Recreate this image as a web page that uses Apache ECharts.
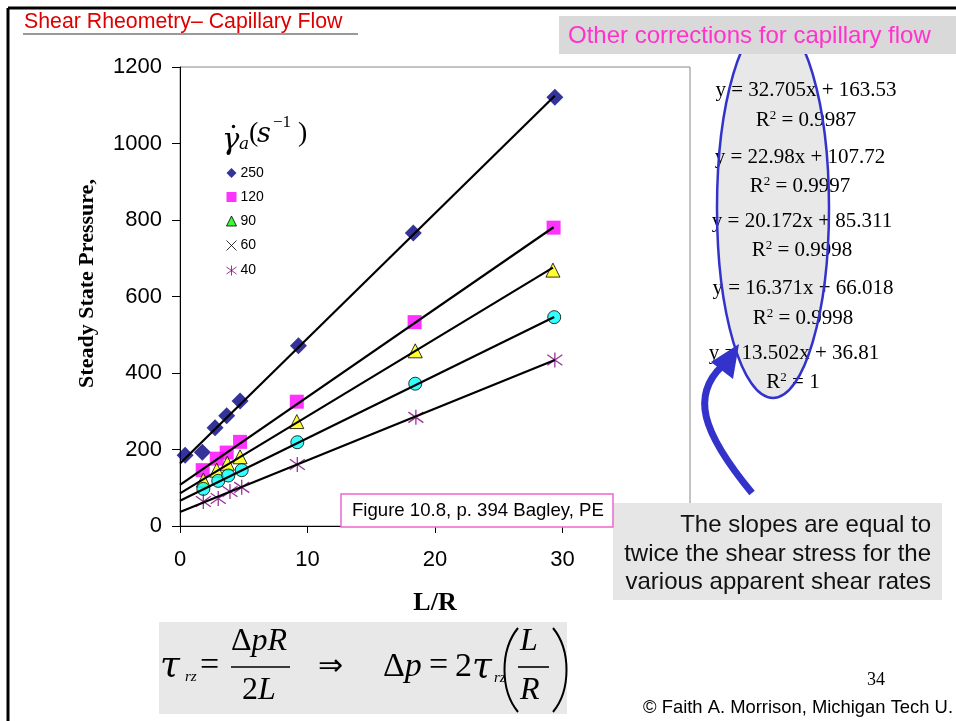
<!DOCTYPE html>
<html><head><meta charset="utf-8">
<script src="https://cdn.jsdelivr.net/npm/echarts@6/dist/echarts.min.js"></script>
<style>html,body{margin:0;padding:0;background:#fff}#c{width:956px;height:721px}</style>
</head><body><div id="c"></div>
<script>
// ---------- data ----------
const rateLabels = ['250', '120', '90', '60', '40'];
const lr250 = [0.4, 1.75, 2.75, 3.66, 4.71, 9.29, 18.3, 29.4];
const p250  = [185, 193, 257, 288, 327, 471, 766, 1121];
const lr120 = [1.78, 2.88, 3.66, 4.71, 9.16, 18.4, 29.3];
const p120  = [146, 176, 192, 220, 325, 533, 780];
const lr90  = [1.83, 2.88, 3.71, 4.71, 9.16, 18.45, 29.25];
const p90   = [120, 146, 164, 181, 273, 458, 669];
const lr60  = [1.83, 3.0, 3.79, 4.84, 9.2, 18.45, 29.35];
const p60   = [97, 118, 132, 146, 219, 372, 546];
const lr40  = [1.83, 3.0, 3.92, 4.84, 9.2, 18.5, 29.4];
const p40   = [64, 72, 90, 101, 161, 284, 434];
const fitSlopes = [32.705, 22.98, 20.172, 16.371, 13.502];
const fitIntercepts = [163.53, 107.72, 85.311, 66.018, 36.81];
const fitR2 = ['0.9987', '0.9997', '0.9998', '0.9998', '1'];
const xTickValues = [0, 10, 20, 30, 40];
const yTickValues = [0, 200, 400, 600, 800, 1000, 1200];

// ---------- styles ----------
const X_PATH = 'path://M0,0L10,10M10,0L0,10';
const STAR_PATH = 'path://M5,0L5,10M0,1.5L10,8.5M10,1.5L0,8.5';
const markerStyles = [
  { symbol: 'diamond', symbolSize: 17, itemStyle: { color: '#000080' } },
  { symbol: 'rect', symbolSize: 14, itemStyle: { color: '#FF00FF' } },
  { symbol: 'triangle', symbolSize: 14, itemStyle: { color: '#FFFF00', borderColor: '#000', borderWidth: 1 } },
  { symbol: 'circle', symbolSize: 13, itemStyle: { color: '#00FFFF', borderColor: '#000', borderWidth: 1 } },
  { symbol: STAR_PATH, symbolSize: 15, itemStyle: { color: 'none', borderColor: '#800080', borderWidth: 1.3 } }
];
const legendIcons = [
  { icon: 'diamond', itemStyle: { color: '#000080', borderWidth: 0 } },
  { icon: 'rect', itemStyle: { color: '#FF00FF', borderWidth: 0 } },
  { icon: 'triangle', itemStyle: { color: '#00FF00', borderColor: '#000', borderWidth: 1 } },
  { icon: X_PATH, itemStyle: { color: 'none', borderColor: '#000', borderWidth: 1 } },
  { icon: STAR_PATH, itemStyle: { color: 'none', borderColor: '#800080', borderWidth: 1 } }
];

const xs = [lr250, lr120, lr90, lr60, lr40];
const ys = [p250, p120, p90, p60, p40];

const series = [];
rateLabels.forEach((name, i) => {
  series.push(Object.assign({
    name: name, type: 'scatter', z: 2,
    data: xs[i].map((x, k) => [x, ys[i][k]])
  }, markerStyles[i]));
});
rateLabels.forEach((name, i) => {
  const xEnd = xs[i][xs[i].length - 1];
  series.push({
    name: 'fit ' + name, type: 'line', z: 5, silent: true,
    showSymbol: false, symbol: 'none',
    lineStyle: { color: '#000', width: 2.2 },
    data: [[0, fitIntercepts[i]], [xEnd, fitSlopes[i] * xEnd + fitIntercepts[i]]]
  });
});

// ---------- annotations ----------
const SERIF = '"Liberation Serif", "Times New Roman", serif';
const DSERIF = '"DejaVu Serif", serif';
const SANS = '"Liberation Sans", Arial, sans-serif';
const G = [];
function txt(x, y, text, st, z) {
  G.push({ type: 'text', x: x, y: y, z: z || 100,
    style: Object.assign({ text: text, fill: '#000', verticalAlign: 'middle', align: 'left' }, st) });
}
function rect(x, y, w, h, st, z) {
  G.push({ type: 'rect', shape: { x: x, y: y, width: w, height: h }, z: z || 90, style: st });
}
function line(x1, y1, x2, y2, st, z) {
  G.push({ type: 'line', shape: { x1: x1, y1: y1, x2: x2, y2: y2 }, z: z || 100, style: st });
}

// slide frame
line(8, 8, 956, 8, { stroke: '#000', lineWidth: 3 });
line(8, 8, 8, 721, { stroke: '#000', lineWidth: 3 });
// title
txt(24, 22, 'Shear Rheometry\u2013 Capillary Flow', { font: '21.3px ' + SANS, fill: '#DD0000' });
line(23, 34, 358, 34, { stroke: '#999', lineWidth: 2 });
// ellipse (fill, under the text)
const ELL = { cx: 773, cy: 208, rx: 56, ry: 190 };
G.push({ type: 'ellipse', shape: ELL, z: 60, style: { fill: '#E8E8E8', stroke: null } });
// right-hand equations
const eqX = [806, 800, 802, 803, 794];
const eqY = [90, 157, 221, 288, 353];
const r2Y = [120, 186, 250, 318, 382];
const r2X = [806, 800, 802, 803, 793];
const eqRich = { n: { fontFamily: SERIF, fontSize: 21, fill: '#000' },
                 s: { fontFamily: SERIF, fontSize: 13, fill: '#000', verticalAlign: 'top' } };
rateLabels.forEach((nm, i) => {
  txt(eqX[i], eqY[i], 'y = ' + fitSlopes[i] + 'x + ' + fitIntercepts[i],
      { font: '21px ' + SERIF, align: 'center' }, 70);
  txt(r2X[i], r2Y[i], '{n|R}{s|2}{n| = ' + fitR2[i] + '}',
      { align: 'center', rich: eqRich, font: '21px ' + SERIF }, 70);
});
// ellipse outline above text
G.push({ type: 'ellipse', shape: ELL, z: 80, style: { fill: null, stroke: '#3333CC', lineWidth: 2.5 } });
// "Other corrections" box
rect(559, 16, 397, 38, { fill: '#D9D9D9' }, 90);
txt(568, 36, 'Other corrections for capillary flow', { font: '24px ' + SANS, fill: '#FF33CC' });
// blue arrow
G.push({ type: 'bezierCurve', z: 85,
  shape: { x1: 752, y1: 493, cpx1: 700, cpy1: 430, cpx2: 692, cpy2: 395, x2: 722, y2: 366 },
  style: { stroke: '#3333CC', lineWidth: 7, fill: null } });
G.push({ type: 'polygon', z: 86, shape: { points: [[739, 344], [711, 362], [733, 379]] },
  style: { fill: '#3333CC' } });
// slopes note
rect(613, 503, 329, 97, { fill: '#E6E6E6' }, 90);
txt(931, 554, 'The slopes are equal to\ntwice the shear stress for the\nvarious apparent shear rates',
    { font: '24px ' + SANS, align: 'right', lineHeight: 28.5, fill: '#111' });
// figure reference box
rect(341, 494, 272, 33, { fill: '#fff', stroke: '#EE66CC', lineWidth: 1.5 }, 90);
txt(352, 511, 'Figure 10.8, p. 394 Bagley, PE', { font: '18.6px ' + SANS });
// legend title: shear-rate symbol
txt(222, 141, '\u03B3', { font: 'italic 29px ' + DSERIF });
G.push({ type: 'circle', z: 100, shape: { cx: 233.5, cy: 126.5, r: 1.7 }, style: { fill: '#000' } });
txt(239, 145, 'a', { font: 'italic 17px ' + DSERIF });
txt(249, 134, '(', { font: '28px ' + SERIF });
txt(257, 135, 's', { font: 'italic 27px ' + DSERIF });
txt(273, 123, '\u22121', { font: '17px ' + SERIF });
txt(298, 134, ')', { font: '28px ' + SERIF });
// formula box
rect(159, 622, 408, 92, { fill: '#E8E8E8' }, 90);
const fRich = { u: { fontFamily: SERIF, fontSize: 32, fill: '#000' },
                i: { fontFamily: SERIF, fontSize: 32, fontStyle: 'italic', fill: '#000' } };
txt(160, 667, '\u03C4', { font: 'italic 36px ' + DSERIF });
txt(185, 677, 'rz', { font: 'italic 15px ' + SERIF });
txt(200, 666, '=', { font: '34px ' + SERIF });
txt(231, 642, '{u|\u0394}{i|pR}', { rich: fRich, font: '32px ' + SERIF });
line(231, 667, 290, 667, { stroke: '#000', lineWidth: 1.6 });
txt(242, 691, '{u|2}{i|L}', { rich: fRich, font: '32px ' + SERIF });
txt(318, 667, '\u21D2', { font: '30px "DejaVu Sans", sans-serif' });
txt(383, 667, '{u|\u0394}{i|p}', { rich: { u: { fontFamily: SERIF, fontSize: 34 }, i: { fontFamily: SERIF, fontSize: 34, fontStyle: 'italic' } }, font: '34px ' + SERIF });
txt(429, 666, '=', { font: '34px ' + SERIF });
txt(455, 667, '2', { font: '34px ' + SERIF });
txt(472, 668, '\u03C4', { font: 'italic 36px ' + DSERIF });
txt(494, 678, 'rz', { font: 'italic 15px ' + SERIF });
G.push({ type: 'bezierCurve', z: 100, shape: { x1: 518, y1: 628, cpx1: 500, cpy1: 650, cpx2: 500, cpy2: 690, x2: 518, y2: 712 },
  style: { stroke: '#000', lineWidth: 2, fill: null } });
txt(520, 642, 'L', { font: 'italic 32px ' + SERIF });
line(518, 667, 549, 667, { stroke: '#000', lineWidth: 1.6 });
txt(520, 691, 'R', { font: 'italic 32px ' + SERIF });
G.push({ type: 'bezierCurve', z: 100, shape: { x1: 553, y1: 628, cpx1: 571, cpy1: 650, cpx2: 571, cpy2: 690, x2: 553, y2: 712 },
  style: { stroke: '#000', lineWidth: 2, fill: null } });
// footer
txt(876, 680, '34', { font: '18px ' + SERIF, align: 'center' });
txt(953, 708, '\u00A9 Faith A. Morrison, Michigan Tech U.', { font: '18.4px ' + SANS, align: 'right' });

const chart = echarts.init(document.getElementById('c'), null, { renderer: 'canvas' });
chart.setOption({
  animation: false,
  backgroundColor: '#fff',
  grid: { left: 180, top: 67, right: 266, bottom: 195, show: true, borderColor: '#888', borderWidth: 1, backgroundColor: 'transparent' },
  xAxis: {
    type: 'value', min: xTickValues[0], max: xTickValues[xTickValues.length - 1], interval: xTickValues[1] - xTickValues[0],
    name: 'L/R', nameLocation: 'middle', nameGap: 64,
    nameTextStyle: { fontFamily: SERIF, fontWeight: 'bold', fontSize: 26, color: '#000' },
    axisLine: { show: true, onZero: false, lineStyle: { color: '#000', width: 1 } },
    axisTick: { show: true, length: 7, lineStyle: { color: '#000' } },
    axisLabel: { margin: 23, fontFamily: SANS, fontSize: 22, color: '#000', formatter: v => String(v) },
    splitLine: { show: false }
  },
  yAxis: {
    type: 'value', min: yTickValues[0], max: yTickValues[yTickValues.length - 1], interval: yTickValues[1] - yTickValues[0],
    name: 'Steady State Pressure,', nameLocation: 'middle', nameGap: 82, nameRotate: 90,
    nameTextStyle: { fontFamily: SERIF, fontWeight: 'bold', fontSize: 22, color: '#000', padding: [0, 0, 0, 26] },
    axisLine: { show: true, onZero: false, lineStyle: { color: '#000', width: 1 } },
    axisTick: { show: true, length: 8, lineStyle: { color: '#000' } },
    axisLabel: { margin: 18, fontFamily: SANS, fontSize: 22, color: '#000', formatter: v => String(v) },
    splitLine: { show: false }
  },
  legend: {
    orient: 'vertical', left: 224, top: 166, padding: 0,
    itemWidth: 10, itemHeight: 10, itemGap: 10,
    selectedMode: false,
    textStyle: { fontFamily: SANS, fontSize: 14, color: '#000', padding: [0, 0, 0, -1] },
    data: rateLabels.map((n, i) => Object.assign({ name: n }, legendIcons[i]))
  },
  series: series,
  graphic: { elements: G }
});
</script>
</body></html>
